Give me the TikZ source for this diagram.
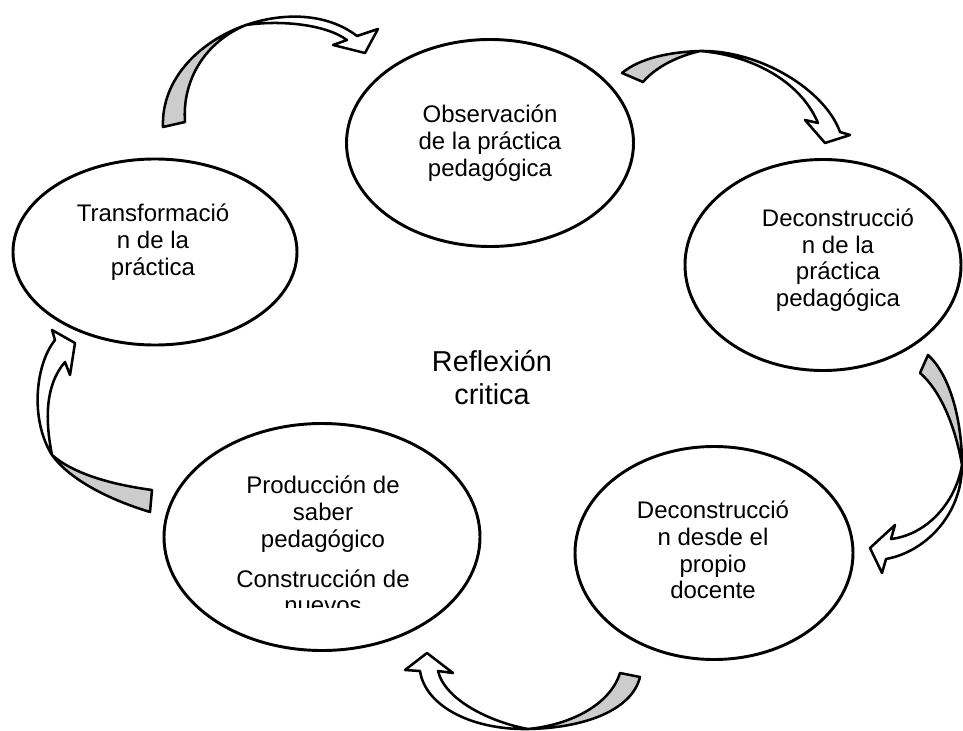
\documentclass[tikz,border=0pt]{standalone}
\usepackage{fontspec}
\setmainfont{Liberation Sans}
\usetikzlibrary{shapes.geometric}

\begin{document}
\begin{tikzpicture}[
    x=0.75pt, y=-0.75pt,
    stage/.style={ellipse, draw=black, line width=2.2pt, inner sep=0pt},
    stagetxt/.style={align=center, inner sep=0pt, font=\fontsize{18}{20}\selectfont},
    band/.style={fill=white, draw=black, line width=1.9pt, line join=round},
    twist/.style={fill=black!20, draw=black, line width=1.9pt, line join=round},
]
\useasboundingbox (0,0) rectangle (963,731);

% the five stages
\node[stage, minimum width=213pt, minimum height=139.5pt] (trans) at (155,252) {};
\node[stage, minimum width=215.25pt, minimum height=155.25pt] (obs) at (490,143) {};
\node[stage, minimum width=207pt, minimum height=158.25pt] (decon) at (823,265) {};
\node[stage, minimum width=208.5pt, minimum height=159.75pt] (deconDoc) at (714,553) {};
\node[stage, minimum width=237pt, minimum height=170.25pt] (prod) at (322,537) {};

\node[stagetxt] (transT) at (153,242) {Transformació\\n de la\\práctica};
\node[stagetxt] (obsT) at (490,143) {Observación\\de la práctica\\pedagógica};
\node[stagetxt] (deconT) at (838,260) {Deconstrucció\\n de la\\práctica\\pedagógica};
\node[stagetxt] (deconDocT) at (713,550) {Deconstrucció\\n desde el\\propio\\docente};
\begin{scope}
\clip (160,440) rectangle (490,607);
\node[stagetxt] (prodT) at (323,545) {Producción de\\saber\\pedagógico\\[10pt]Construcción de\\nuevos};
\end{scope}

\node[align=center, inner sep=0pt, font=\fontsize{21.6}{24.75}\selectfont] (centro) at (492,378) {Reflexión\\critica};

% curved arrows
\draw[twist] (163,127) .. controls (161,79) and (200,41) .. (246,25) .. controls (205,42) and (182,80) .. (185,122) -- cycle;
\draw[band] (246,25) .. controls (284,12) and (327,13) .. (357,36) -- (378,29) -- (365,53) -- (333,45) -- (347,40) .. controls (325,24) and (280,20) .. (246,25) -- cycle;

\draw[twist] (622,73) .. controls (640,58) and (670,52) .. (700,51) .. controls (675,57) and (655,68) .. (643,82) -- cycle;
\draw[band] (700,51) .. controls (760,50) and (825,90) .. (840,132) -- (850,135) -- (825,143) -- (805,120) -- (818,123) .. controls (800,80) and (750,55) .. (700,51) -- cycle;

\draw[twist] (928,355) .. controls (950,375) and (962,420) .. (962,465) .. controls (955,425) and (940,390) .. (920,373) -- cycle;
\draw[band] (962,465) .. controls (962,515) and (925,552) .. (886,559) -- (882,573) -- (870,548) -- (895,525) -- (891,539) .. controls (925,535) and (955,505) .. (962,465) -- cycle;

\draw[twist] (640,677) .. controls (632,710) and (585,728) .. (528,729) .. controls (570,725) and (610,705) .. (620,673) -- cycle;
\draw[band] (528,729) .. controls (470,730) and (425,705) .. (420,671) -- (405,670) -- (427,653) -- (453,673) -- (438,671) .. controls (445,700) and (490,722) .. (528,729) -- cycle;

\draw[twist] (150,512) .. controls (110,500) and (70,480) .. (52,455) .. controls (75,475) and (115,485) .. (152,490) -- cycle;
\draw[band] (52,455) .. controls (30,420) and (35,365) .. (55,340) -- (52,330) -- (75,343) -- (70,375) -- (65,362) .. controls (45,385) and (45,420) .. (52,455) -- cycle;
\end{tikzpicture}
\end{document}
